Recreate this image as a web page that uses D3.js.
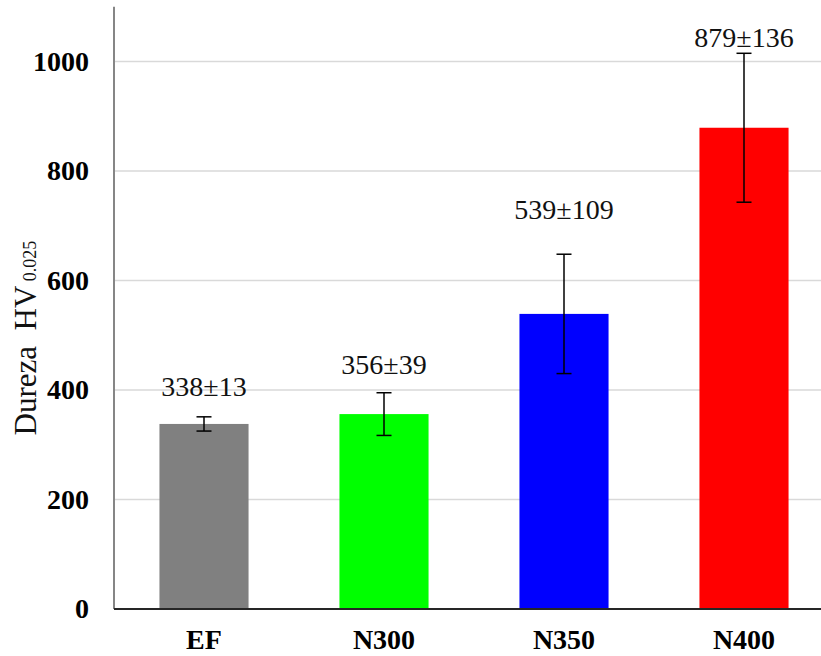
<!DOCTYPE html>
<html>
<head>
<meta charset="utf-8">
<script src="https://cdn.jsdelivr.net/npm/d3@7"></script>
<style>
  html, body { margin: 0; padding: 0; background: #fff; }
  svg { display: block; }
</style>
</head>
<body>
<svg id="chart" width="821" height="656"></svg>
<script>
// Microhardness per sample condition
const categories = ["EF", "N300", "N350", "N400"];
const hardness   = [338, 356, 539, 879];
const deviation  = [13, 39, 109, 136];
const barColors  = ["#808080", "#00ff00", "#0000ff", "#ff0000"];
const yTicks     = [0, 200, 400, 600, 800, 1000];

const W = 821, H = 656;
const plotLeft = 114, plotBottom = 609, plotTop = 6.75;
const serif = "'Liberation Serif', 'Times New Roman', serif";

const svg = d3.select("#chart");

const y = d3.scaleLinear().domain([0, 1100]).range([plotBottom, plotTop]);
const x = d3.scaleBand()
  .domain(categories)
  .range([plotLeft, plotLeft + 720])
  .paddingInner(0.505)
  .paddingOuter(0.2525);

// horizontal gridlines
svg.append("g")
  .selectAll("line")
  .data(yTicks.filter(t => t > 0))
  .join("line")
  .attr("x1", plotLeft).attr("x2", W)
  .attr("y1", d => y(d)).attr("y2", d => y(d))
  .attr("stroke", "#d9d9d9").attr("stroke-width", 1.3);

// y axis with bold tick labels
const yAxis = svg.append("g")
  .attr("transform", `translate(${plotLeft},0)`)
  .call(d3.axisLeft(y).tickValues(yTicks).tickFormat(d3.format("d"))
    .tickSize(0).tickPadding(25));
yAxis.select(".domain")
  .attr("d", `M0,${plotTop}V${plotBottom}`)
  .attr("stroke", "#868686").attr("stroke-width", 2);
yAxis.selectAll("text")
  .attr("font-family", serif).attr("font-size", 28)
  .attr("font-weight", "bold").attr("fill", "#000");

// bars
svg.append("g")
  .selectAll("rect")
  .data(categories)
  .join("rect")
  .attr("x", d => x(d))
  .attr("width", x.bandwidth())
  .attr("y", (d, i) => y(hardness[i]))
  .attr("height", (d, i) => y(0) - y(hardness[i]))
  .attr("fill", (d, i) => barColors[i]);

// x axis line
svg.append("line")
  .attr("x1", plotLeft).attr("x2", W)
  .attr("y1", plotBottom).attr("y2", plotBottom)
  .attr("stroke", "#262626").attr("stroke-width", 2);

// category labels
svg.append("g")
  .selectAll("text")
  .data(categories)
  .join("text")
  .attr("x", d => x(d) + x.bandwidth() / 2)
  .attr("y", 649)
  .attr("text-anchor", "middle")
  .attr("font-family", serif).attr("font-size", 28).attr("font-weight", "bold")
  .text(d => d);

// error bars
const cap = 7.5;
const err = svg.append("g").attr("stroke", "#000").attr("stroke-width", 1.5);
categories.forEach((c, i) => {
  const cx = x(c) + x.bandwidth() / 2;
  const hi = y(hardness[i] + deviation[i]);
  const lo = y(hardness[i] - deviation[i]);
  err.append("line").attr("x1", cx).attr("x2", cx).attr("y1", hi).attr("y2", lo);
  err.append("line").attr("x1", cx - cap).attr("x2", cx + cap).attr("y1", hi).attr("y2", hi);
  err.append("line").attr("x1", cx - cap).attr("x2", cx + cap).attr("y1", lo).attr("y2", lo);
});

// value ± deviation annotations, lifted above each error bar
const labelRise = [21, 19, 35, 6];
svg.append("g")
  .selectAll("text")
  .data(categories)
  .join("text")
  .attr("x", d => x(d) + x.bandwidth() / 2)
  .attr("y", (d, i) => y(hardness[i] + deviation[i]) - labelRise[i])
  .attr("text-anchor", "middle")
  .attr("font-family", serif).attr("font-size", 28).attr("fill", "#111")
  .text((d, i) => `${hardness[i]}±${deviation[i]}`);

// y axis title with subscript
const title = svg.append("text")
  .attr("transform", "translate(36,338) rotate(-90)")
  .attr("text-anchor", "middle")
  .attr("font-family", serif).attr("font-size", 31).attr("fill", "#111");
title.append("tspan").text("Dureza\u00a0 HV");
title.append("tspan").attr("font-size", 18).text("\u00a00.025");
</script>
</body>
</html>
